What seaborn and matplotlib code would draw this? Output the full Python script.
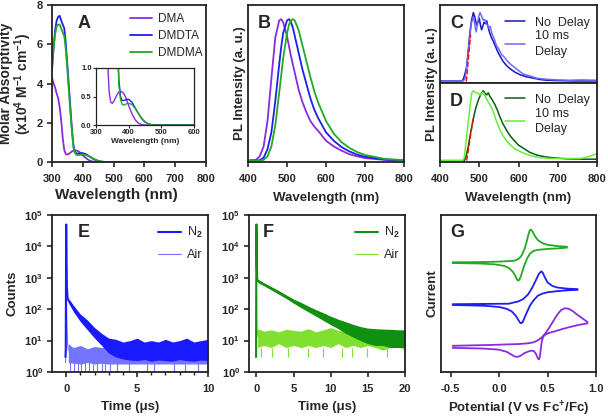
import matplotlib
matplotlib.use("Agg")
import matplotlib.pyplot as plt
import seaborn as sns
from matplotlib.ticker import FixedLocator, NullLocator, FormatStrFormatter, LogLocator

# ---------------- data ----------------
# A: absorption (x10^4 M^-1 cm^-1)
abs_wl = [300, 305, 310, 315, 320, 325, 330, 335, 340, 345, 350, 355, 360, 365, 370, 375, 380, 385,
          390, 395, 400, 410, 420, 430, 440, 450, 460, 470, 480, 500, 600, 700, 800]
abs_dma = [4.3, 4.0, 3.8, 3.5, 3.25, 2.8, 2.1, 1.2, 0.6, 0.40, 0.38, 0.42, 0.48, 0.54, 0.58, 0.59, 0.58,
           0.55, 0.50, 0.42, 0.34, 0.20, 0.09, 0.03, 0.005, 0, 0, 0, 0, 0, 0, 0, 0]
abs_dmdta = [4.7, 5.8, 6.7, 7.2, 7.4, 7.45, 7.2, 7.0, 6.8, 6.0, 4.9, 3.8, 2.7, 1.6, 0.8, 0.5, 0.43,
             0.43, 0.44, 0.45, 0.45, 0.40, 0.30, 0.20, 0.11, 0.05, 0.02, 0.005, 0, 0, 0, 0, 0]
abs_dmdma = [4.8, 5.8, 6.5, 6.9, 7.0, 7.0, 6.8, 6.6, 6.4, 5.7, 4.7, 3.6, 2.5, 1.5, 0.7, 0.45, 0.36,
             0.35, 0.36, 0.38, 0.38, 0.36, 0.29, 0.20, 0.12, 0.06, 0.02, 0.005, 0, 0, 0, 0, 0]
abs_names = ["DMA", "DMDTA", "DMDMA"]

# B: normalised PL
pl_wl = [400, 420, 430, 440, 450, 460, 470, 480, 485, 490, 500, 505, 510, 515, 520, 530, 540, 550,
         560, 570, 580, 600, 620, 640, 660, 680, 700, 750, 800]
pl_dma = [0, 0.005, 0.03, 0.1, 0.28, 0.58, 0.87, 0.99, 1.0, 0.98, 0.88, 0.81, 0.74, 0.68, 0.62, 0.5,
          0.41, 0.34, 0.28, 0.24, 0.21, 0.14, 0.1, 0.07, 0.045, 0.03, 0.018, 0.005, 0]
pl_dmdta = [0, 0, 0.003, 0.02, 0.08, 0.2, 0.42, 0.68, 0.8, 0.9, 0.99, 1.0, 0.98, 0.94, 0.88, 0.76,
            0.64, 0.54, 0.44, 0.36, 0.3, 0.2, 0.14, 0.095, 0.065, 0.042, 0.027, 0.008, 0.002]
pl_dmdma = [0, 0, 0, 0.005, 0.03, 0.1, 0.25, 0.48, 0.6, 0.72, 0.9, 0.96, 0.99, 1.0, 0.99, 0.92,
            0.81, 0.7, 0.59, 0.49, 0.41, 0.28, 0.19, 0.13, 0.09, 0.06, 0.04, 0.012, 0.003]

# C: DMDTA, no delay / 10 ms delay
c_wl_nd = [400, 455, 459, 463, 468, 472, 476, 480, 485, 489, 493, 497, 500, 503, 506, 509, 512, 516,
           519, 523, 527, 531, 536, 542, 549, 555, 561, 570, 578, 590, 604, 620, 638, 655, 672, 700,
           740, 800]
c_nd = [0.01, 0.01, 0.03, 0.1, 0.22, 0.45, 0.7, 0.88, 1.0, 0.93, 0.82, 0.86, 0.92, 0.82, 0.75, 0.8,
        0.86, 0.84, 0.88, 0.78, 0.7, 0.64, 0.58, 0.5, 0.41, 0.35, 0.29, 0.23, 0.19, 0.14, 0.1, 0.07,
        0.05, 0.03, 0.02, 0.015, 0.01, 0.01]
c_wl_d = [400, 460, 464, 468, 472, 476, 480, 485, 488, 492, 496, 499, 502, 506, 510, 514, 519, 524,
          528, 532, 538, 544, 550, 557, 563, 570, 578, 587, 600, 612, 630, 646, 670, 697, 730, 760, 800]
c_d = [0.01, 0.01, 0.05, 0.2, 0.42, 0.65, 0.85, 0.94, 0.85, 0.72, 0.85, 0.95, 1.0, 0.95, 0.89, 0.9,
       0.83, 0.78, 0.8, 0.7, 0.62, 0.52, 0.47, 0.39, 0.36, 0.31, 0.26, 0.22, 0.16, 0.11, 0.08, 0.05,
       0.035, 0.025, 0.02, 0.025, 0.02]
c_onset_x = [467, 478]
c_onset_y = [0, 0.68]

# D: DMDMA, no delay / 10 ms delay
d_wl_nd = [400, 462, 466, 472, 478, 485, 491, 498, 504, 510, 515, 519, 523, 527, 533, 540, 547, 553,
           560, 570, 578, 587, 600, 612, 628, 646, 662, 680, 700, 723, 760, 800]
d_nd = [0, 0, 0.05, 0.2, 0.4, 0.6, 0.75, 0.87, 0.95, 1.0, 0.96, 0.94, 0.97, 0.92, 0.87, 0.8, 0.71,
        0.62, 0.53, 0.43, 0.36, 0.3, 0.22, 0.18, 0.12, 0.08, 0.06, 0.045, 0.035, 0.025, 0.02, 0.02]
d_wl_d = [400, 458, 462, 467, 472, 477, 481, 485, 489, 493, 498, 502, 506, 510, 514, 519, 525, 532,
          538, 544, 552, 561, 570, 578, 590, 604, 620, 638, 660, 680, 720, 757, 775, 791, 800]
d_d = [0, 0, 0.05, 0.3, 0.55, 0.8, 0.97, 1.0, 0.98, 0.97, 0.96, 0.94, 0.96, 0.98, 0.93, 0.88, 0.82,
       0.75, 0.66, 0.56, 0.45, 0.35, 0.28, 0.23, 0.17, 0.13, 0.09, 0.06, 0.04, 0.03, 0.03, 0.03, 0.05,
       0.08, 0.1]
d_onset_x = [468, 485]
d_onset_y = [0, 0.62]

# E: DMDTA decay (counts)
e_t = [-0.05, -0.03, 0.0, 0.02, 0.05, 0.1, 0.2, 0.3, 0.5, 0.7, 1.0, 1.3, 1.6, 2.0, 2.4, 2.8, 3.2]
e_n2 = [3, 5, 50000, 4000, 500, 220, 180, 150, 110, 80, 55, 38, 27, 17, 12, 9, 7]
e_band_t = [0.2, 0.5, 1.0, 1.5, 2.0, 2.5, 3.0, 3.5, 4.0, 4.5, 5.0, 5.5, 6.0, 6.5, 7.0, 7.5, 8.0, 8.5,
            9.0, 9.5, 10.0]
e_band_lo = [150, 85, 40, 22, 12, 7, 4, 3, 2.6, 2.4, 2.3, 2.5, 2.2, 2.4, 2.3, 2.2, 2.5, 2.3, 2.2, 2.4, 2.3]
e_band_hi = [210, 135, 70, 45, 26, 17, 12, 11, 9, 10, 12, 9, 10, 9, 11, 9, 10, 12, 9, 10, 11]
e_air_t = [-0.05, -0.02, 0.0, 0.02, 0.05, 0.1, 0.15]
e_air = [2, 4, 600, 250, 40, 8, 5]
e_air_band_t = [0.15, 0.5, 1.0, 1.5, 2.0, 2.5, 3.0, 10.0]
e_air_lo = [2.0, 1.9, 1.8, 2.0, 1.8, 1.9, 1.8, 1.8]
e_air_hi = [8, 6, 7, 5.5, 6.5, 6, 6.5, 6.5]
e_air_spikes = [0.3, 0.55, 0.8, 1.05, 1.3, 1.6, 1.9, 2.2, 2.5, 2.75, 3.1, 3.6, 4.4, 5.7, 6.2, 7.6,
                8.4, 9.3]

# F: DMDMA decay (counts)
f_t = [-0.05, 0.0, 0.05, 0.1, 0.2, 1, 2, 3, 4, 5, 6, 7, 8, 9, 10, 11, 12, 13, 14, 15, 16, 17, 18, 19, 20]
f_n2 = [3, 50000, 3000, 900, 800, 620, 460, 340, 250, 180, 135, 100, 75, 57, 43, 34, 27, 22, 18, 16,
        15, 14, 13, 13, 13]
f_band_t = [0.2, 1, 2, 3, 4, 5, 6, 7, 8, 9, 10, 11, 12, 13, 14, 15, 16, 17, 18, 19, 20]
f_band_lo = [700, 560, 410, 300, 220, 155, 112, 82, 60, 44, 32, 24, 17, 13, 10, 8, 7, 7, 6, 6, 6]
f_band_hi = [900, 690, 520, 390, 285, 210, 165, 125, 97, 77, 60, 48, 40, 33, 28, 25, 24, 23, 23, 22, 22]
f_air_t = [-0.05, 0.0, 0.05, 0.15]
f_air = [3, 800, 60, 14]
f_air_band_t = [0.15, 1, 2, 3, 4, 5, 6, 7, 8, 9, 10, 11, 12, 13, 14, 15, 16, 17, 18, 19, 20]
f_air_lo = [6, 7, 6, 8, 6, 7, 6, 7, 6, 7, 6, 8, 6, 7, 6, 7, 6, 5, 6, 7, 5]
f_air_hi = [24, 20, 22, 19, 23, 21, 20, 24, 19, 22, 26, 21, 20, 23, 19, 22, 21, 24, 20, 22, 21]
f_air_spikes = [0.6, 2.1, 4.3, 7.0, 8.9, 11.5, 12.8, 14.9, 17.6]

# G: cyclic voltammograms (closed loops, arbitrary current with offsets)
g_grn_x = [-0.48, -0.2, 0.0, 0.15, 0.2, 0.23, 0.26, 0.28, 0.30, 0.315, 0.325, 0.345, 0.37, 0.40, 0.45,
           0.50, 0.60, 0.70,
           0.70, 0.60, 0.50, 0.40, 0.35, 0.32, 0.29, 0.26, 0.235, 0.215, 0.20, 0.185, 0.17, 0.14, 0.10,
           0.05, -0.05, -0.2, -0.48]
g_grn_y = [69.9, 70.0, 70.3, 70.8, 72.0, 74.0, 78.0, 82.0, 87.0, 90.0, 90.8, 89.5, 86.5, 84.0, 82.0,
           81.0, 80.2, 79.8,
           79.2, 78.7, 78.4, 77.8, 77.0, 75.5, 72.5, 68.0, 63.0, 59.5, 58.2, 58.8, 61.0, 64.0, 66.3,
           67.6, 68.6, 69.1, 69.4]
g_blu_x = [-0.48, 0.1, 0.2, 0.25, 0.3, 0.34, 0.38, 0.41, 0.435, 0.45, 0.47, 0.5, 0.55, 0.6, 0.7, 0.81,
           0.81, 0.7, 0.6, 0.5, 0.45, 0.4, 0.36, 0.32, 0.29, 0.265, 0.245, 0.23, 0.215, 0.2, 0.17, 0.13,
           0.08, 0.0, -0.15, -0.48]
g_blu_y = [43.2, 43.5, 45.0, 46.5, 49.5, 53.5, 58.5, 62.5, 64.1, 63.3, 60.5, 57.0, 54.8, 53.8, 53.1, 52.8,
           52.3, 52.0, 51.5, 50.8, 50.0, 48.6, 46.0, 42.5, 38.5, 35.0, 32.0, 31.0, 31.5, 33.0, 36.0,
           38.6, 40.2, 41.4, 42.2, 42.7]
g_pur_x = [-0.48, -0.1, 0.2, 0.3, 0.36, 0.40, 0.44, 0.48, 0.52, 0.56, 0.60, 0.64, 0.68, 0.72, 0.76,
           0.80, 0.85, 0.912,
           0.912, 0.85, 0.80, 0.72, 0.65, 0.58, 0.52, 0.48, 0.455, 0.44, 0.43, 0.42, 0.412, 0.40, 0.385,
           0.36, 0.33, 0.30, 0.26, 0.22, 0.19, 0.16, 0.13, 0.08, 0.0, -0.15, -0.48]
g_pur_y = [16.7, 17.2, 17.8, 18.3, 19.0, 20.2, 22.0, 24.8, 28.5, 32.5, 36.5, 39.5, 40.6, 40.2, 38.8,
           36.8, 34.6, 31.8,
           31.0, 30.3, 29.7, 28.5, 27.3, 26.0, 25.0, 24.0, 22.5, 19.5, 14.5, 9.5, 8.0, 8.6, 11.0,
           13.3, 13.6, 13.0, 12.0, 10.3, 9.6, 9.9, 11.0, 12.8, 14.2, 14.9, 15.4]

# ---------------- style ----------------
sns.set_theme(style="ticks")
plt.rcParams["font.family"] = ["Liberation Sans", "DejaVu Sans"]
plt.rcParams["font.weight"] = "bold"
plt.rcParams["axes.labelweight"] = "bold"
plt.rcParams["mathtext.fontset"] = "custom"
plt.rcParams["mathtext.rm"] = "Liberation Sans"
plt.rcParams["mathtext.bf"] = "Liberation Sans:bold"
plt.rcParams["mathtext.it"] = "Liberation Sans:italic"
plt.rcParams["mathtext.default"] = "bf"
plt.rcParams["axes.unicode_minus"] = False
plt.rcParams["axes.linewidth"] = 1.3
plt.rcParams["axes.edgecolor"] = "#222222"
plt.rcParams["xtick.major.width"] = 1.2
plt.rcParams["ytick.major.width"] = 1.2
plt.rcParams["xtick.minor.width"] = 1.0
plt.rcParams["xtick.major.size"] = 3.5
plt.rcParams["ytick.major.size"] = 3.5
plt.rcParams["xtick.minor.size"] = 2.5
plt.rcParams["xtick.labelsize"] = 8
plt.rcParams["ytick.labelsize"] = 8
plt.rcParams["axes.labelsize"] = 9.5
plt.rcParams["xtick.major.pad"] = 5
plt.rcParams["ytick.major.pad"] = 3
plt.rcParams["axes.labelpad"] = 6

C_DMA = "#8a2be2"
C_DMDTA = "#1e1ef0"
C_DMDMA = "#22aa22"
C_ND_B = "#1515c0"
C_D_B = "#6a6aff"
C_ND_G = "#0a5c14"
C_D_G = "#66ee33"
C_E_N2 = "#1a1aff"
C_E_AIR = "#7474ff"
C_F_N2 = "#109010"
C_F_AIR = "#80e030"

W, H = 608, 417
fig = plt.figure(figsize=(W / 100, H / 100), dpi=100)


def add_ax(l, t, r, b):
    return fig.add_axes([l / W, 1 - b / H, (r - l) / W, (b - t) / H])


def letter(ax, s, x, y):
    ax.text(x, y, s, transform=ax.transAxes, fontsize=13, fontweight="bold", ha="left", va="center")


def multiline_legend(ax, anchor_y, spacing):
    leg = ax.legend(loc="upper right", bbox_to_anchor=(1.02, anchor_y), frameon=False, prop=leg_prop,
                    handlelength=1.6, handletextpad=0.8, labelspacing=0.15, borderpad=0.3)
    for t in leg.get_texts():
        t.set_linespacing(spacing)
    return leg


LW = 1.3
leg_prop = {"weight": "normal", "size": 9}

# ---------------- A ----------------
axA = add_ax(52, 5, 206, 162)
for vals, col, name in zip([abs_dma, abs_dmdta, abs_dmdma], [C_DMA, C_DMDTA, C_DMDMA], abs_names):
    sns.lineplot(x=abs_wl, y=vals, ax=axA, color=col, lw=LW, label=name, estimator=None, sort=False)
axA.set_xlim(300, 800)
axA.set_ylim(0, 8)
axA.set_xticks([300, 400, 500, 600, 700, 800])
axA.set_yticks([0, 2, 4, 6, 8])
axA.set_xlabel("Wavelength (nm)", fontsize=11)
axA.xaxis.set_label_coords(0.42, -0.165)
axA.set_ylabel("Molar Absorptivity\n(x10$^{4}$ M$^{-1}$ cm$^{-1}$)", fontsize=10, linespacing=0.95,
               labelpad=2)
axA.legend(loc="upper right", bbox_to_anchor=(1.04, 1.01), frameon=False,
           prop={"weight": "normal", "size": 8.5},
           handlelength=1.9, handletextpad=0.5, labelspacing=0.42, borderpad=0.3)
letter(axA, "A", 0.165, 0.88)

axIn = add_ax(96, 68, 194, 125)
for vals, col in zip([abs_dma, abs_dmdta, abs_dmdma], [C_DMA, C_DMDTA, C_DMDMA]):
    sns.lineplot(x=abs_wl, y=vals, ax=axIn, color=col, lw=1.0, estimator=None, sort=False, legend=False)
axIn.set_xlim(300, 600)
axIn.set_ylim(0, 1.0)
axIn.set_xticks([300, 400, 500, 600])
axIn.set_yticks([0.0, 0.5, 1.0])
axIn.yaxis.set_major_formatter(FormatStrFormatter("%.1f"))
axIn.tick_params(labelsize=5.5, length=2, width=0.8, pad=1)
for sp in axIn.spines.values():
    sp.set_linewidth(0.9)
axIn.set_xlabel("Wavelength (nm)", fontsize=6, labelpad=1)
axIn.set_ylabel("")

# ---------------- B ----------------
axB = add_ax(248, 5, 404, 162)
for vals, col in zip([pl_dma, pl_dmdta, pl_dmdma], [C_DMA, C_DMDTA, C_DMDMA]):
    sns.lineplot(x=pl_wl, y=vals, ax=axB, color=col, lw=LW, estimator=None, sort=False, legend=False)
axB.set_xlim(400, 800)
axB.set_ylim(-0.01, 1.1)
axB.set_xticks([400, 500, 600, 700, 800])
axB.yaxis.set_major_locator(NullLocator())
axB.set_xlabel("Wavelength (nm)")
axB.set_ylabel("PL Intensity (a. u.)", labelpad=1.5)
letter(axB, "B", 0.065, 0.88)

# ---------------- C ----------------
axC = add_ax(440, 5, 597, 83)
sns.lineplot(x=c_wl_nd, y=c_nd, ax=axC, color=C_ND_B, lw=1.1, label="No  Delay", estimator=None, sort=False)
sns.lineplot(x=c_wl_d, y=c_d, ax=axC, color=C_D_B, lw=1.1, label="10 ms\nDelay", estimator=None, sort=False)
sns.lineplot(x=c_onset_x, y=c_onset_y, ax=axC, color="red", lw=1.0, linestyle="--", estimator=None,
             sort=False, legend=False)
axC.set_xlim(400, 800)
axC.set_ylim(-0.02, 1.11)
axC.xaxis.set_major_locator(NullLocator())
axC.yaxis.set_major_locator(NullLocator())
axC.set_xlabel("")
axC.set_ylabel("")
multiline_legend(axC, 0.98, 1.35)
letter(axC, "C", 0.065, 0.76)

# ---------------- D ----------------
axD = add_ax(440, 83, 597, 162)
sns.lineplot(x=d_wl_nd, y=d_nd, ax=axD, color=C_ND_G, lw=1.1, label="No  Delay", estimator=None, sort=False)
sns.lineplot(x=d_wl_d, y=d_d, ax=axD, color=C_D_G, lw=1.1, label="10 ms\nDelay", estimator=None, sort=False)
sns.lineplot(x=d_onset_x, y=d_onset_y, ax=axD, color="red", lw=1.0, linestyle="--", estimator=None,
             sort=False, legend=False)
axD.set_xlim(400, 800)
axD.set_ylim(-0.02, 1.11)
axD.set_xticks([400, 500, 600, 700, 800])
axD.yaxis.set_major_locator(NullLocator())
axD.set_xlabel("Wavelength (nm)")
axD.set_ylabel("")
multiline_legend(axD, 0.99, 1.35)
letter(axD, "D", 0.065, 0.77)
fig.text(432 / W, 1 - 84 / H, "PL Intensity (a. u.)", rotation=90, ha="center", va="center",
         fontsize=9.5, fontweight="bold")

# ---------------- E ----------------
axE = add_ax(52, 215, 208, 372)
axE.set_yscale("log")
axE.fill_between(e_air_band_t, e_air_lo, e_air_hi, color=C_E_AIR, lw=0)
axE.vlines(e_air_spikes, 1, 2.2, color=C_E_AIR, lw=0.8)
sns.lineplot(x=e_air_t, y=e_air, ax=axE, color=C_E_AIR, lw=0.8, estimator=None, sort=False, legend=False)
axE.fill_between(e_band_t, e_band_lo, e_band_hi, color=C_E_N2, lw=0)
sns.lineplot(x=e_t, y=e_n2, ax=axE, color=C_E_N2, lw=1.5, label="N$_{\\mathrm{2}}$", estimator=None, sort=False)
sns.lineplot(x=[None], y=[None], ax=axE, color=C_E_AIR, lw=0.8, label="Air")
axE.set_xlim(-1, 10)
axE.set_ylim(1, 1e5)
axE.set_xticks([0, 5, 10])
axE.xaxis.set_minor_locator(FixedLocator([1, 2, 3, 4, 6, 7, 8, 9]))
axE.yaxis.set_major_locator(LogLocator(base=10, numticks=10))
axE.yaxis.set_minor_locator(NullLocator())
axE.set_xlabel("Time (\u03bcs)", labelpad=5)
axE.set_ylabel("Counts", labelpad=4)
axE.legend(loc="upper right", bbox_to_anchor=(1.03, 1.0), frameon=False, prop=leg_prop,
           handlelength=1.8, handletextpad=0.5, labelspacing=0.75, borderpad=0.3)
letter(axE, "E", 0.165, 0.89)

# ---------------- F ----------------
axF = add_ax(249, 215, 405, 372)
axF.set_yscale("log")
axF.fill_between(f_air_band_t, f_air_lo, f_air_hi, color=C_F_AIR, lw=0)
axF.vlines(f_air_spikes, 3, 6, color=C_F_AIR, lw=0.8)
sns.lineplot(x=f_air_t, y=f_air, ax=axF, color=C_F_AIR, lw=0.8, estimator=None, sort=False, legend=False)
axF.fill_between(f_band_t, f_band_lo, f_band_hi, color=C_F_N2, lw=0)
sns.lineplot(x=f_t, y=f_n2, ax=axF, color=C_F_N2, lw=1.5, label="N$_{\\mathrm{2}}$", estimator=None, sort=False)
sns.lineplot(x=[None], y=[None], ax=axF, color=C_F_AIR, lw=0.8, label="Air")
axF.set_xlim(-1, 20)
axF.set_ylim(1, 1e5)
axF.set_xticks([0, 5, 10, 15, 20])
axF.yaxis.set_major_locator(LogLocator(base=10, numticks=10))
axF.yaxis.set_minor_locator(NullLocator())
axF.set_xlabel("Time (\u03bcs)", labelpad=5)
axF.set_ylabel("")
axF.legend(loc="upper right", bbox_to_anchor=(1.03, 1.0), frameon=False, prop=leg_prop,
           handlelength=1.8, handletextpad=0.5, labelspacing=0.75, borderpad=0.3)
letter(axF, "F", 0.09, 0.89)

# ---------------- G ----------------
axG = add_ax(441, 215, 596, 372)
for gx, gy, col in [(g_grn_x, g_grn_y, C_DMDMA), (g_blu_x, g_blu_y, C_DMDTA), (g_pur_x, g_pur_y, C_DMA)]:
    sns.lineplot(x=gx, y=gy, ax=axG, color=col, lw=LW, estimator=None, sort=False, legend=False)
axG.set_xlim(-0.6, 1.0)
axG.set_ylim(0, 100)
axG.set_xticks([-0.5, 0.0, 0.5, 1.0])
axG.xaxis.set_major_formatter(FormatStrFormatter("%.1f"))
axG.yaxis.set_major_locator(NullLocator())
axG.set_xlabel("Potential (V vs Fc$^{+}$/Fc)", labelpad=4)
axG.set_ylabel("Current", labelpad=1.5)
letter(axG, "G", 0.058, 0.89)

fig.savefig("out.png", dpi=100)
